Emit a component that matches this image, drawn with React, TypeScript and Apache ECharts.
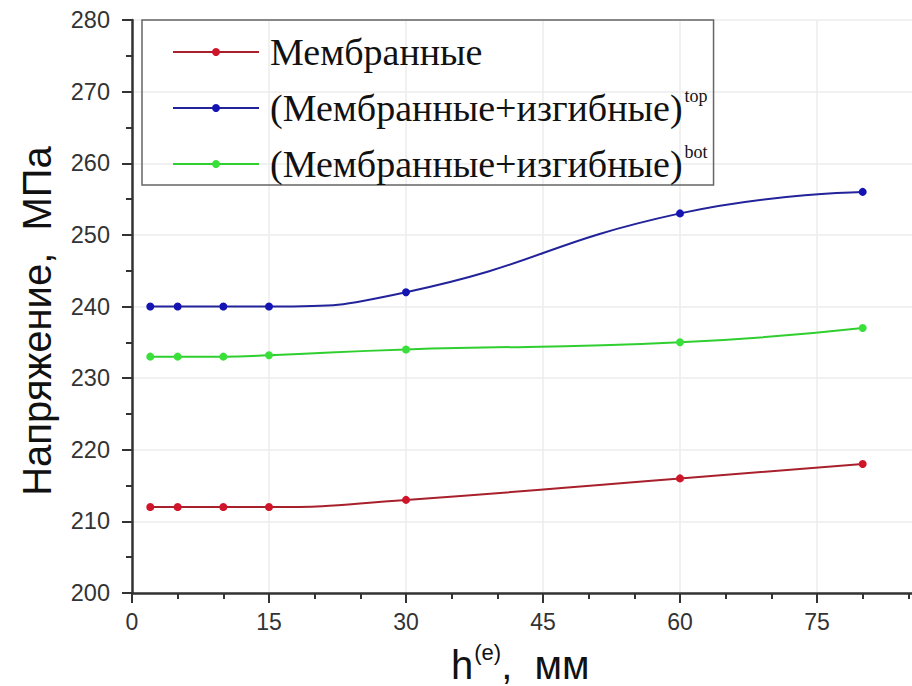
import React, { useEffect, useRef } from "react";
import * as echarts from "echarts";

const xValues = [2, 5, 10, 15, 30, 60, 80];
const membrane = [212, 212, 212, 212, 213, 216, 218];
const topValues = [240, 240, 240, 240, 242, 253, 256];
const botValues = [233, 233, 233, 233.2, 234, 235, 237];

const seriesNames = ["Мембранные", "(Мембранные+изгибные)top", "(Мембранные+изгибные)bot"];
const legendBase = ["Мембранные", "(Мембранные+изгибные)", "(Мембранные+изгибные)"];
const legendSup = ["", "top", "bot"];
const lineColors = ["#a8202c", "#22229a", "#2fcf2f"];
const markerColors = ["#d0142a", "#1414b4", "#3ae03a"];

const yTitle = "Напряжение,  МПа";
const xTitleMain = "h";
const xTitleSup = "(e)";
const xTitleUnit = ",  мм";

export default function App() {
  const ref = useRef<HTMLDivElement>(null);
  useEffect(() => {
    if (!ref.current) return;
    const chart = echarts.init(ref.current, null, { renderer: "svg" });
    const datasets = [membrane, topValues, botValues];
    const series = datasets.map((vals, i) => ({
      name: seriesNames[i],
      type: "line",
      smooth: 0.5,
      data: xValues.map((x, j) => [x, vals[j]]),
      symbol: "circle",
      symbolSize: 8,
      lineStyle: { color: lineColors[i], width: 2 },
      itemStyle: { color: markerColors[i] },
    }));
    chart.setOption({
      animation: false,
      backgroundColor: "#ffffff",
      grid: { left: 132, top: 20, bottom: 93, right: 0 },
      legend: {
        orient: "vertical",
        left: 142,
        top: 20,
        padding: [13, 6, 2, 30],
        itemGap: 16,
        itemWidth: 86,
        itemHeight: 10,
        borderColor: "#666",
        borderWidth: 1.5,
        data: seriesNames,
        formatter: (name: string) => {
          const i = seriesNames.indexOf(name);
          return legendSup[i]
            ? `{b|${legendBase[i]}}{s|${legendSup[i]}}`
            : `{b|${legendBase[i]}}`;
        },
        textStyle: {
          rich: {
            b: { fontFamily: "Liberation Serif", fontSize: 38, color: "#111", lineHeight: 42, padding: [0, 0, 0, 6] },
            s: { fontFamily: "Liberation Serif", fontSize: 18, color: "#111", verticalAlign: "top", lineHeight: 42, padding: [0, 0, 18, 2] },
          },
        },
      },
      xAxis: {
        type: "value",
        min: 0,
        max: 90,
        interval: 15,
        axisLine: { show: true, lineStyle: { color: "#333", width: 2.5 } },
        axisTick: { show: true, length: 10, lineStyle: { color: "#333", width: 2 } },
        minorTick: { show: true, splitNumber: 3, length: 6, lineStyle: { color: "#333", width: 2 } },
        splitLine: { show: true, lineStyle: { color: "#ececec", width: 1.5 } },
        axisLabel: {
          margin: 17,
          fontFamily: "Liberation Sans",
          fontSize: 23,
          color: "#333",
          formatter: (v: number) => (v > 80 ? "" : String(v)),
        },
      },
      yAxis: {
        type: "value",
        min: 200,
        max: 280,
        interval: 10,
        axisLine: { show: true, lineStyle: { color: "#333", width: 2.5 } },
        axisTick: { show: true, length: 10, lineStyle: { color: "#333", width: 2 } },
        minorTick: { show: true, splitNumber: 2, length: 6, lineStyle: { color: "#333", width: 2 } },
        splitLine: { show: true, lineStyle: { color: "#ececec", width: 1.5 } },
        axisLabel: {
          margin: 22,
          fontFamily: "Liberation Sans",
          fontSize: 23.5,
          color: "#333",
        },
      },
      graphic: [
        {
          type: "text",
          x: 37,
          y: 321,
          rotation: Math.PI / 2,
          style: {
            text: yTitle,
            fontFamily: "Liberation Sans",
            fontSize: 40,
            fill: "#111",
            align: "center",
            verticalAlign: "middle",
          },
        },
        {
          type: "text",
          x: 451,
          y: 641,
          style: {
            text: `{b|${xTitleMain}}{s|${xTitleSup}}{b|${xTitleUnit}}`,
            rich: {
              b: { fontFamily: "Liberation Sans", fontSize: 40, fill: "#111", lineHeight: 44, verticalAlign: "bottom" },
              s: { fontFamily: "Liberation Sans", fontSize: 22, fill: "#111", lineHeight: 20, verticalAlign: "top", padding: [0, 0, 0, 1] },
            },
          },
        },
      ],
      series,
    });
    return () => chart.dispose();
  }, []);
  return (
    <div style={{ position: "fixed", left: 0, top: 0, width: 912, height: 686, overflow: "hidden" }}>
      <div ref={ref} style={{ width: 957, height: 686 }} />
    </div>
  );
}
